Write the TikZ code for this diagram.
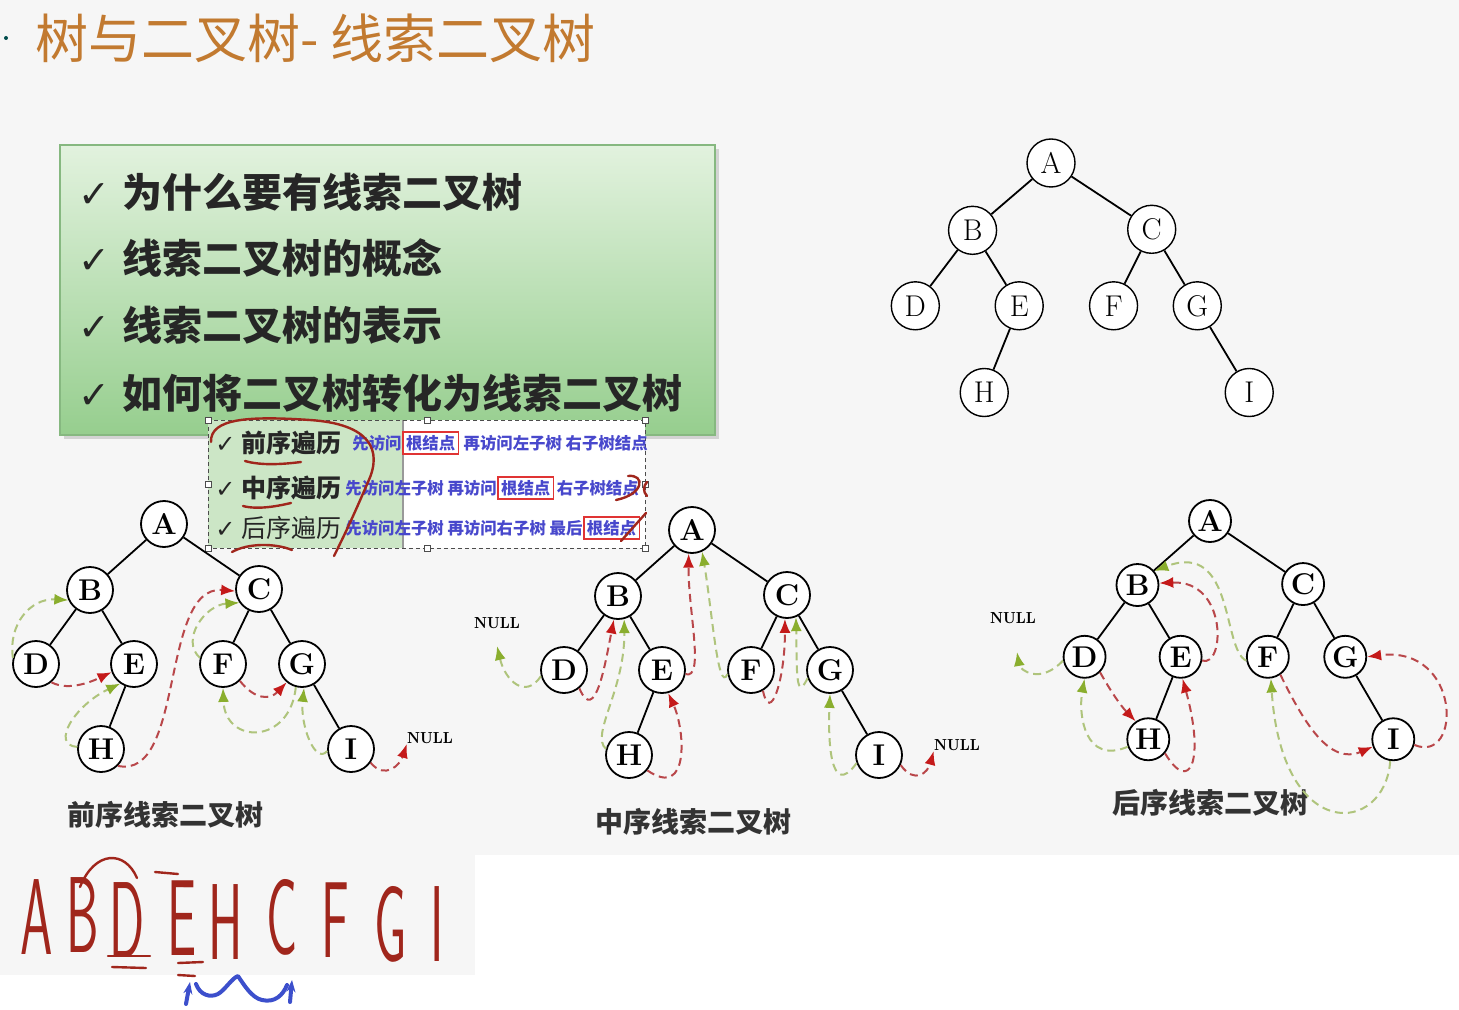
\documentclass[tikz,border=0pt]{standalone}
\usepackage{fontspec}
\usepackage{graphicx}
\newfontfamily\cjk{Noto Sans CJK SC}
\newfontfamily\symb{DejaVu Sans}
\usetikzlibrary{arrows.meta, positioning, shadows}

\definecolor{slidebg}{HTML}{F6F6F6}
\definecolor{titlebrown}{HTML}{C27A30}
\definecolor{boxtop}{HTML}{E2F2DE}
\definecolor{boxbot}{HTML}{96CE8E}
\definecolor{boxedge}{HTML}{86B880}
\definecolor{pastegreen}{HTML}{CCE6C6}
\definecolor{linkblue}{HTML}{4848CC}
\definecolor{rootred}{HTML}{E03434}
\definecolor{penred}{HTML}{A0261C}
\definecolor{penblue}{HTML}{3C4FCC}
\definecolor{succline}{HTML}{B9474A}
\definecolor{succhead}{HTML}{C41A1A}
\definecolor{predline}{HTML}{AFC47C}
\definecolor{predhead}{HTML}{8AAE2E}

\tikzset{
    treenode/.style={circle, draw=black, fill=white, line width=0.9pt,
        minimum size=23pt, inner sep=0pt,
        font=\fontsize{15}{15}\selectfont\bfseries},
    plainnode/.style={treenode, line width=0.7pt, minimum size=24pt,
        font=\fontsize{15}{15}\selectfont},
    treeline/.style={line width=0.9pt},
    succ/.style={draw=succline, line width=1pt,
        dash pattern=on 4pt off 2.5pt,
        -{Latex[length=7pt, width=5.5pt, color=succhead]}},
    pred/.style={draw=predline, line width=1pt,
        dash pattern=on 4pt off 2.5pt,
        -{Latex[length=7pt, width=5.5pt, color=predhead]}},
    nulltxt/.style={font=\fontsize{8}{8}\selectfont\bfseries,
        inner sep=0pt},
    caption/.style={font=\cjk\bfseries\fontsize{14}{14}\selectfont,
        text=black!80},
    topicbox/.style={draw=boxedge, line width=0.6pt,
        top color=boxtop, bottom color=boxbot,
        minimum width=327.5pt, minimum height=145pt,
        drop shadow={shadow xshift=2pt, shadow yshift=-2pt,
            fill=black!30}},
    topic/.style={anchor=west, inner sep=0pt, text=black!85,
        font=\cjk\bfseries\fontsize{20}{20}\selectfont},
    ordertag/.style={anchor=west, inner sep=0pt, text=black!85,
        font=\cjk\fontsize{12.5}{12.5}\selectfont},
    linktxt/.style={inner sep=0pt, text=linkblue,
        font=\cjk\bfseries\fontsize{8.2}{8.2}\selectfont},
    rootbox/.style={linktxt, draw=rootred, line width=0.8pt,
        inner sep=1.6pt},
    handle/.style={draw=black!70, fill=white, line width=0.4pt,
        minimum size=3pt, inner sep=0pt},
    redpen/.style={penred, line width=1.2pt, line cap=round},
    bluepen/.style={penblue, line width=2pt, line cap=round,
        line join=round},
    handtxt/.style={text=penred, inner sep=0pt,
        font=\sffamily\fontsize{54}{54}\selectfont},
}

% #1 name prefix, #2 root position, #3 spread, #4 node style
\newcommand{\bintree}[4]{%
    \begin{scope}[shift={#2}, #3]
        \node[#4] (#1A) at (0,0)      {A};
        \node[#4] (#1B) at (-74,66)   {B};
        \node[#4] (#1C) at (95,65)    {C};
        \node[#4] (#1D) at (-128,140) {D};
        \node[#4] (#1E) at (-30,140)  {E};
        \node[#4] (#1F) at (59,140)   {F};
        \node[#4] (#1G) at (138,140)  {G};
        \node[#4] (#1H) at (-63,225)  {H};
        \node[#4] (#1I) at (187,225)  {I};
    \end{scope}
    \draw[treeline] (#1A) -- (#1B)  (#1A) -- (#1C)
        (#1B) -- (#1D)  (#1B) -- (#1E)  (#1E) -- (#1H)
        (#1C) -- (#1F)  (#1C) -- (#1G)  (#1G) -- (#1I);
}

\newcommand{\tick}[1]{{\symb\fontsize{#1}{#1}\selectfont ✓}}

\begin{document}
\begin{tikzpicture}[x=0.5pt, y=-0.5pt]
\useasboundingbox (0,0) rectangle (1459,1010);
\fill[slidebg] (0,0) rectangle (1459,1010);
\fill[white] (475,855) rectangle (1459,1010);
\fill[white] (0,975) rectangle (475,1010);

% ================================================================
%  TITLE AND TOPICS
% ================================================================

\fill[teal!60!black] (6,38) circle (2);
\node[anchor=west, text=titlebrown,
      font=\cjk\fontsize{26.5}{26.5}\selectfont] (title) at (28,38)
    {树与二叉树- 线索二叉树};

\node[topicbox] (topics) at (387.5,290) {};
\node[topic] (topic1) at (78,192)
    {\tick{19}\hspace{6pt}为什么要有线索二叉树};
\node[topic] (topic2) at (78,258)
    {\tick{19}\hspace{6pt}线索二叉树的概念};
\node[topic] (topic3) at (78,325)
    {\tick{19}\hspace{6pt}线索二叉树的表示};
\node[topic] (topic4) at (78,393)
    {\tick{19}\hspace{6pt}如何将二叉树转化为线索二叉树};

% ================================================================
%  PASTED TRAVERSAL NOTES
% ================================================================

\fill[pastegreen] (208,420) rectangle (403,548);
\fill[white] (403,420) rectangle (645,548);
\draw[black!40, line width=0.6pt] (403,420) -- (403,548);
\draw[black!70, line width=0.5pt, dash pattern=on 2pt off 1.5pt]
    (208,420) rectangle (645,548);
\foreach \hx/\hy in {208/420, 427/420, 645/420, 208/484, 645/484,
                     208/548, 427/548, 645/548}
    \node[handle] (hdl-\hx-\hy) at (\hx,\hy) {};

\node[ordertag] (pretag) at (215,443)
    {\tick{12}\hspace{3pt}\textbf{前序遍历}};
\node[ordertag] (intag) at (215,488)
    {\tick{12}\hspace{3pt}\textbf{中序遍历}};
\node[ordertag] (posttag) at (215,528)
    {\tick{12}\hspace{3pt}后序遍历};

\node[linktxt, anchor=west] (pre1) at (352,443) {先访问};
\node[rootbox, right=0pt of pre1] (pre2) {根结点};
\node[linktxt, right=2pt of pre2] (pre3) {再访问左子树 右子树结点};

\node[linktxt, anchor=west] (in1) at (345,488) {先访问左子树 再访问};
\node[rootbox, right=0pt of in1] (in2) {根结点};
\node[linktxt, right=1pt of in2] (in3) {右子树结点};

\node[linktxt, anchor=west] (post1) at (345,528)
    {先访问左子树 再访问右子树 最后};
\node[rootbox, right=0pt of post1] (post2) {根结点};

% pen marks
\draw[redpen] (245,461) .. controls (262,466) and (285,464) .. (301,462);
\draw[redpen] (243,506) .. controls (258,510) and (278,506) .. (291,503);
\draw[redpen] (211,442) .. controls (210,418) and (250,416) .. (310,420)
    .. controls (370,424) and (383,450) .. (368,482)
    .. controls (356,510) and (346,532) .. (334,556);
\draw[redpen] (232,552) .. controls (248,543) and (275,543) .. (292,550);
\draw[redpen] (628,476) .. controls (645,474) and (645,494) .. (616,500);
\draw[redpen] (647,482) .. controls (643,486) and (643,492) .. (647,496);
\draw[redpen] (621,541) -- (646,513);

% ================================================================
%  TREES
% ================================================================

\bintree{t}{(1051,163)}{xscale=1.06, yscale=1.02}{plainnode}
\bintree{p}{(164,524)}{scale=1}{treenode}
\bintree{m}{(692,530)}{scale=1}{treenode}
\bintree{q}{(1210,521)}{xscale=0.98, yscale=0.97}{treenode, minimum size=21pt}

\node[nulltxt] (pnull)  at (430,738) {\scalebox{0.85}[1]{NULL}};
\node[nulltxt] (mnullL) at (497,623) {\scalebox{0.85}[1]{NULL}};
\node[nulltxt] (mnullR) at (957,745) {\scalebox{0.85}[1]{NULL}};
\node[nulltxt] (qnull)  at (1013,618) {\scalebox{0.85}[1]{NULL}};
\coordinate (mnulltip) at (497,646);
\coordinate (qnulltip) at (1017,652);

\node[caption] (precap)  at (165,815)  {前序线索二叉树};
\node[caption] (incap)   at (693,822)  {中序线索二叉树};
\node[caption] (postcap) at (1210,803) {后序线索二叉树};

% ================================================================
%  PREORDER THREADS
% ================================================================

\draw[pred] (pD.165) .. controls (8,625) and (30,598) .. (pB.205);
\draw[succ] (pD.-50) .. controls (70,692) and (95,680) .. (pE.200);
\draw[pred] (pH.175) .. controls (50,745) and (75,705) .. (pE.235);
\draw[succ] (pH.-45) .. controls (185,780) and (160,585) .. (pC.185);
\draw[pred] (pF.165) .. controls (180,640) and (205,605) .. (pC.215);
\draw[succ] (pF.-45) .. controls (255,700) and (270,700) .. (pG.230);
\draw[pred] (pG.255) .. controls (290,745) and (225,745) .. (pF.270);
\draw[pred] (pI.185) .. controls (315,765) and (300,725) .. (pG.275);
\draw[succ] (pI.-35) .. controls (385,780) and (400,765) .. (pnull.south west);

% ================================================================
%  INORDER THREADS
% ================================================================

\draw[pred] (mD.195) .. controls (525,700) and (505,680) .. (mnulltip);
\draw[succ] (mD.-50) .. controls (595,725) and (605,665) .. (mB.260);
\draw[pred] (mH.165) .. controls (590,735) and (625,690) .. (mB.285);
\draw[succ] (mH.-40) .. controls (690,800) and (685,730) .. (mE.285);
\draw[succ] (mE.-10) .. controls (705,680) and (688,610) .. (mA.262);
\draw[pred] (mF.190) .. controls (718,695) and (712,610) .. (mA.295);
\draw[succ] (mF.-60) .. controls (770,725) and (785,680) .. (mC.265);
\draw[pred] (mG.200) .. controls (795,705) and (797,665) .. (mC.292);
\draw[pred] (mI.200) .. controls (830,800) and (828,740) .. (mG.270);
\draw[succ] (mI.-25) .. controls (915,785) and (928,772) .. (mnullR.south west);

% ================================================================
%  POSTORDER THREADS
% ================================================================

\draw[pred] (qD.190) .. controls (1040,685) and (1020,670) .. (qnulltip);
\draw[succ] (qD.-45) .. controls (1110,690) and (1120,705) .. (qH.125);
\draw[pred] (qH.200) .. controls (1085,765) and (1078,715) .. (qD.270);
\draw[succ] (qH.-40) .. controls (1190,795) and (1205,760) .. (qE.275);
\draw[succ] (qE.-10) .. controls (1225,668) and (1228,580) .. (qB.5);
\draw[pred] (qF.190) .. controls (1222,650) and (1235,540) .. (qB.40);
\draw[succ] (qF.-55) .. controls (1305,725) and (1330,765) .. (qI.200);
\draw[pred] (qI.262) .. controls (1385,835) and (1282,845) .. (qF.278);
\draw[succ] (qI.-15) .. controls (1462,765) and (1462,645) .. (qG.0);

% ================================================================
%  HANDWRITTEN SEQUENCE
% ================================================================

\foreach \ch/\hx/\hy [count=\k] in {A/37/917, B/83/915, D/127/920,
        E/182/918, H/226/922, C/282/917, F/335/920, G/391/924, I/437/924}
    \node[handtxt] (hand\k) at (\hx,\hy) {\scalebox{0.48}[1]{\ch}};

\draw[redpen] (80,887) .. controls (95,850) and (125,850) .. (137,878);
\draw[redpen] (155,872) -- (178,874);
\draw[redpen] (108,956) -- (150,956);
\draw[redpen] (112,967) -- (146,968);
\draw[redpen] (178,963) -- (203,962);
\draw[redpen] (178,975) -- (195,976);

\draw[bluepen, -{Stealth[length=6pt]}] (186,1004) -- (190,982);
\draw[bluepen] (196,984) .. controls (200,995) and (210,998) .. (218,994)
    .. controls (225,990) and (232,978) .. (238,976)
    .. controls (244,985) and (252,998) .. (262,1000)
    .. controls (275,1003) and (283,995) .. (287,985);
\draw[bluepen, -{Stealth[length=6pt]}] (290,1002) -- (292,980);

\end{tikzpicture}
\end{document}
